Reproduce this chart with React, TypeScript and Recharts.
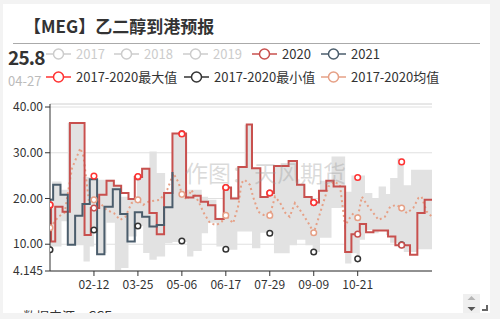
import { Area, ComposedChart, CartesianGrid, Line, ReferenceLine, XAxis, YAxis } from 'recharts'

const FONT = '"Microsoft YaHei", "Noto Sans CJK SC", sans-serif'

// axis labels (MM-DD on a 2020 calendar)
const tickDates = ['02-12', '03-25', '05-06', '06-17', '07-29', '09-09', '10-21']
const yTicks = [4.145, 10, 20, 30, 40]
const yMin = 4.145
const yMax = 40.66

// 2020 weekly forecast (step series)
const dates2020 = [
  '01-01', '01-02', '01-06', '01-13', '01-20', '02-03', '02-09', '02-17', '02-24', '03-02',
  '03-09', '03-16', '03-22', '03-29', '04-05', '04-12', '04-19', '04-27', '05-10', '05-17',
  '05-24', '05-31', '06-07', '06-15', '06-22', '06-29', '07-07', '07-12', '07-20', '07-27',
  '08-02', '08-16', '08-24', '08-31', '09-07', '09-14', '09-21', '09-28', '10-09', '10-15',
  '10-23', '10-29', '11-05', '11-19', '11-26', '12-10', '12-17', '12-24', '12-31',
]
const values2020 = [
  18.6, 10.6, 18.2, 17.1, 36.5, 12.0, 17.9, 20.8, 23.9, 22.8,
  21.2, 19.9, 24.7, 26.5, 16.8, 12.2, 21.2, 34.2, 20.2, 20.6,
  19.3, 18.5, 15.5, 22.4, 20.0, 26.9, 36.2, 26.6, 20.3, 21.2,
  27.1, 28.2, 23.0, 20.3, 19.1, 21.7, 23.9, 22.6, 8.3, 12.2,
  14.4, 12.6, 13.0, 11.7, 9.8, 7.7, 16.8, 19.7, 19.7,
]

// 2021 (dates mapped onto the 2020 calendar)
const dates2021 = [
  '01-01', '01-04', '01-11', '01-18', '01-25', '02-01', '02-08', '02-15', '02-22', '03-01',
  '03-08', '03-15', '03-22', '03-29', '04-05', '04-12', '04-19', '04-27',
]
const values2021 = [
  19.7, 23.0, 20.8, 9.9, 16.2, 18.8, 24.2, 7.8, 18.2, 22.0,
  16.6, 10.6, 17.0, 16.0, 13.9, 14.2, 18.1, 25.8,
]

// 2017-2020 max / min band
const bandDates = [
  '01-01', '01-03', '01-12', '01-18', '02-02', '02-08', '02-12', '02-14', '02-24', '03-03',
  '03-09', '03-16', '03-24', '03-30', '04-05', '04-12', '04-20', '04-27', '05-11', '05-17',
  '05-25', '05-31', '06-08', '06-15', '06-21', '06-28', '07-05', '07-12', '07-20', '07-27',
  '08-02', '08-17', '08-24', '09-01', '09-08', '09-15', '09-26', '10-09', '10-15', '10-20',
  '10-23', '10-28', '11-04', '11-10', '11-17', '11-21', '11-28', '12-04', '12-11', '12-17',
  '12-31',
]
const bandMax = [
  18.6, 23.7, 21.9, 36.5, 24.7, 24.5, 24.9, 24.1, 24.1, 23.0,
  20.4, 19.9, 24.8, 26.7, 30.3, 25.6, 21.5, 34.3, 21.9, 21.9,
  20.4, 19.7, 15.8, 22.6, 20.4, 27.0, 36.1, 26.6, 20.3, 21.2,
  27.1, 28.2, 23.0, 20.3, 19.1, 23.9, 29.2, 21.5, 25.0, 24.6,
  25.0, 21.2, 20.0, 22.6, 21.0, 24.5, 28.8, 22.9, 26.3, 26.3,
  26.3,
]
const bandMin = [
  8.8, 9.5, 15.0, 9.8, 6.2, 9.5, 13.1, 8.1, 14.7, 4.3,
  4.8, 11.7, 14.0, 8.1, 6.6, 7.3, 10.2, 10.5, 7.3, 8.5,
  12.4, 14.7, 9.5, 8.8, 8.8, 12.8, 12.8, 9.1, 12.5, 12.4,
  8.0, 9.8, 11.0, 9.8, 8.3, 11.4, 17.9, 5.8, 8.0, 6.8,
  11.0, 13.1, 12.4, 13.1, 12.0, 10.3, 9.8, 8.3, 8.3, 8.9,
  8.9,
]

// 2017-2020 average
const avgDates = [
  '01-01', '01-09', '01-15', '01-22', '01-30', '02-02', '02-07', '02-12', '02-18', '02-24',
  '03-02', '03-08', '03-13', '03-19', '03-25', '03-30', '04-04', '04-15', '04-22', '04-28',
  '05-03', '05-06', '05-11', '05-15', '05-22', '05-27', '06-02', '06-08', '06-13', '06-17',
  '06-24', '06-29', '07-02', '07-05', '07-10', '07-13', '07-18', '07-23', '07-29', '08-03',
  '08-08', '08-13', '08-17', '08-22', '08-29', '09-04', '09-09', '09-13', '09-18', '09-23',
  '09-28', '10-04', '10-09', '10-12', '10-17', '10-21', '10-25', '10-30', '11-05', '11-10',
  '11-16', '11-21', '11-27', '12-02', '12-07', '12-13', '12-18', '12-21', '12-26', '12-31',
]
const avgValues = [
  13.6, 16.0, 16.9, 26.6, 31.0, 29.2, 19.7, 19.7, 19.0, 17.5,
  16.8, 15.3, 16.0, 19.0, 19.7, 18.6, 19.3, 19.7, 21.9, 25.5,
  23.4, 20.9, 19.7, 21.9, 19.3, 16.8, 14.6, 14.2, 14.9, 16.3,
  14.6, 18.5, 23.4, 24.1, 23.0, 20.4, 17.1, 16.4, 16.3, 20.4,
  19.0, 16.8, 16.0, 19.0, 16.8, 14.6, 12.5, 15.3, 19.0, 22.6,
  23.7, 23.0, 13.9, 15.3, 16.8, 15.8, 20.4, 18.6, 16.8, 15.3,
  16.0, 18.2, 18.6, 17.9, 16.8, 17.9, 20.1, 20.4, 17.1, 16.0,
]

// symbols shown at the label interval
const markDates = ['01-01', '02-12', '03-25', '05-06', '06-17', '07-29', '09-09', '10-21', '12-02']
const markMax = [18.6, 24.9, 24.8, 34.1, 22.4, 21.2, 19.1, 24.6, 28.0]
const markMin = [8.8, 13.1, 14.0, 10.7, 8.9, 12.4, 8.3, 6.8, 9.9]
const markAvg = [13.6, 19.7, 19.7, 20.9, 16.3, 16.3, 12.5, 15.8, 17.9]
const mark2020 = [18.6, 17.9, 24.7, 34.2, 22.4, 21.2, 19.1, 12.2, 9.8]

function dayOf(md: string) {
  const [m, d] = md.split('-').map(Number)
  return (Date.UTC(2020, m - 1, d) - Date.UTC(2020, 0, 1)) / 86400000
}

const tickDays = tickDates.map(dayOf)
const data2020 = dates2020.map((d, i) => ({ day: dayOf(d), v: values2020[i] }))
const data2021 = dates2021.map((d, i) => ({ day: dayOf(d), v: values2021[i] }))
const bandData = bandDates.map((d, i) => ({ day: dayOf(d), range: [bandMin[i], bandMax[i]] }))
const avgData = avgDates.map((d, i) => ({ day: dayOf(d), v: avgValues[i] }))
const markData = markDates.map((d, i) => ({
  day: dayOf(d),
  max: markMax[i],
  min: markMin[i],
  avg: markAvg[i],
  y2020: mark2020[i],
}))

const C2020 = '#c8504e'
const C2021 = '#4b5d6c'
const CMAX = '#ff3232'
const CMIN = '#333333'
const CAVG = '#e6a086'

const legendRow1 = [
  { name: '2017', color: '#cccccc', x: 46, off: true },
  { name: '2018', color: '#cccccc', x: 114, off: true },
  { name: '2019', color: '#cccccc', x: 183, off: true },
  { name: '2020', color: C2020, x: 252, off: false },
  { name: '2021', color: C2021, x: 321, off: false },
]
const legendRow2 = [
  { name: '2017-2020最大值', color: CMAX, x: 46, off: false },
  { name: '2017-2020最小值', color: CMIN, x: 184, off: false },
  { name: '2017-2020均值', color: CAVG, x: 321, off: false },
]

function LegendItem({ name, color, x, y, off }: { name: string; color: string; x: number; y: number; off: boolean }) {
  return (
    <div style={{ position: 'absolute', left: x, top: y - 8, height: 16, display: 'flex', alignItems: 'center' }}>
      <svg width={25} height={16}>
        <line x1={0} y1={8} x2={25} y2={8} stroke={color} strokeWidth={1.5} />
        <circle cx={12.5} cy={8} r={5} fill="#fff" stroke={color} strokeWidth={1.5} />
      </svg>
      <span style={{ marginLeft: 5, fontSize: 13, lineHeight: '16px', color: off ? '#cccccc' : '#333' }}>{name}</span>
    </div>
  )
}

function markDot(color: string) {
  return { r: 2.8, fill: '#fff', stroke: color, strokeWidth: 1.5 }
}

export default function App() {
  return (
    <div style={{ position: 'fixed', left: 0, top: 0, width: 500, height: 319, background: '#f3f3f3', overflow: 'hidden', fontFamily: FONT }}>
      <div style={{ position: 'absolute', left: 3, top: 4, width: 487, height: 309, background: '#fff', overflow: 'hidden' }}>
        <div style={{ position: 'absolute', left: 20, top: 302, fontSize: 13, color: '#333', whiteSpace: 'nowrap' }}>数据来源：CCF</div>
        <div style={{ position: 'absolute', left: 460, top: 290, width: 17, height: 22, background: '#efefef' }}>
          <svg width={17} height={22}>
            <polygon points="4.5,6 12.5,6 8.5,2" fill="#b5b5b5" />
            <polygon points="4.5,13 12.5,13 8.5,17" fill="#555" />
          </svg>
        </div>
        <svg style={{ position: 'absolute', left: 478, top: 300 }} width={8} height={8}>
          <path d="M6 1 V6 H1" stroke="#666" strokeWidth={2} fill="none" />
        </svg>
      </div>

      <div style={{ position: 'absolute', left: 24, top: 16, fontSize: 17, lineHeight: '20px', fontWeight: 'bold', color: '#333', whiteSpace: 'nowrap' }}>
        【MEG】乙二醇到港预报
      </div>
      <div style={{ position: 'absolute', left: 13, top: 43, width: 467, height: 1, background: '#aaa' }} />
      <div style={{ position: 'absolute', left: 8, top: 47, fontSize: 19, lineHeight: '20px', fontWeight: 'bold', color: '#333', letterSpacing: -0.8 }}>25.8</div>
      <div style={{ position: 'absolute', left: 8, top: 74, fontSize: 13, lineHeight: '14px', color: '#bbb' }}>04-27</div>

      {legendRow1.map((it) => (
        <LegendItem key={it.name} {...it} y={54} />
      ))}
      {legendRow2.map((it) => (
        <LegendItem key={it.name} {...it} y={77} />
      ))}

      <div style={{ position: 'absolute', left: 0, top: 0 }}>
        <ComposedChart width={500} height={319} margin={{ top: 104, right: 68, bottom: 18, left: 4 }}>
          <CartesianGrid vertical={false} stroke="#e0e0e0" />
          <XAxis
            type="number"
            dataKey="day"
            domain={[0, 365]}
            ticks={tickDays}
            allowDataOverflow
            tickFormatter={(v) => tickDates[tickDays.indexOf(Number(v))] ?? ''}
            height={30}
            tickSize={5}
            tickMargin={4}
            stroke="#333"
            tick={{ fill: '#333', fontSize: 12, fontFamily: FONT }}
          />
          <YAxis
            type="number"
            domain={[yMin, yMax]}
            ticks={yTicks}
            allowDataOverflow
            width={46}
            tickSize={5}
            tickMargin={2}
            stroke="#333"
            tickFormatter={(v) => (Number(v) === yMin ? String(yMin) : Number(v).toFixed(2))}
            tick={{ fill: '#333', fontSize: 12, fontFamily: FONT }}
          />
          <ReferenceLine y={yMax} stroke="#e0e0e0" />
          <Area
            data={bandData}
            dataKey="range"
            type="stepAfter"
            stroke="none"
            fill="#e2e2e2"
            fillOpacity={1}
            isAnimationActive={false}
          />
          <Line
            data={avgData}
            dataKey="v"
            type="linear"
            stroke={CAVG}
            strokeWidth={2}
            strokeDasharray="2 3"
            dot={false}
            isAnimationActive={false}
          />
          <Line data={data2020} dataKey="v" type="stepAfter" stroke={C2020} strokeWidth={2} dot={false} isAnimationActive={false} />
          <Line data={data2021} dataKey="v" type="stepAfter" stroke={C2021} strokeWidth={2} dot={false} isAnimationActive={false} />
          <Line data={markData} dataKey="min" stroke="none" dot={markDot(CMIN)} activeDot={false} isAnimationActive={false} />
          <Line data={markData} dataKey="avg" stroke="none" dot={markDot(CAVG)} activeDot={false} isAnimationActive={false} />
          <Line data={markData} dataKey="y2020" stroke="none" dot={markDot(C2020)} activeDot={false} isAnimationActive={false} />
          <Line data={markData} dataKey="max" stroke="none" dot={markDot(CMAX)} activeDot={false} isAnimationActive={false} />
        </ComposedChart>
      </div>

      <div style={{ position: 'absolute', left: 185, top: 159, fontSize: 23, lineHeight: '26px', color: 'rgba(150,150,150,0.35)', whiteSpace: 'nowrap', pointerEvents: 'none' }}>
        作图：天风期货
      </div>
    </div>
  )
}
